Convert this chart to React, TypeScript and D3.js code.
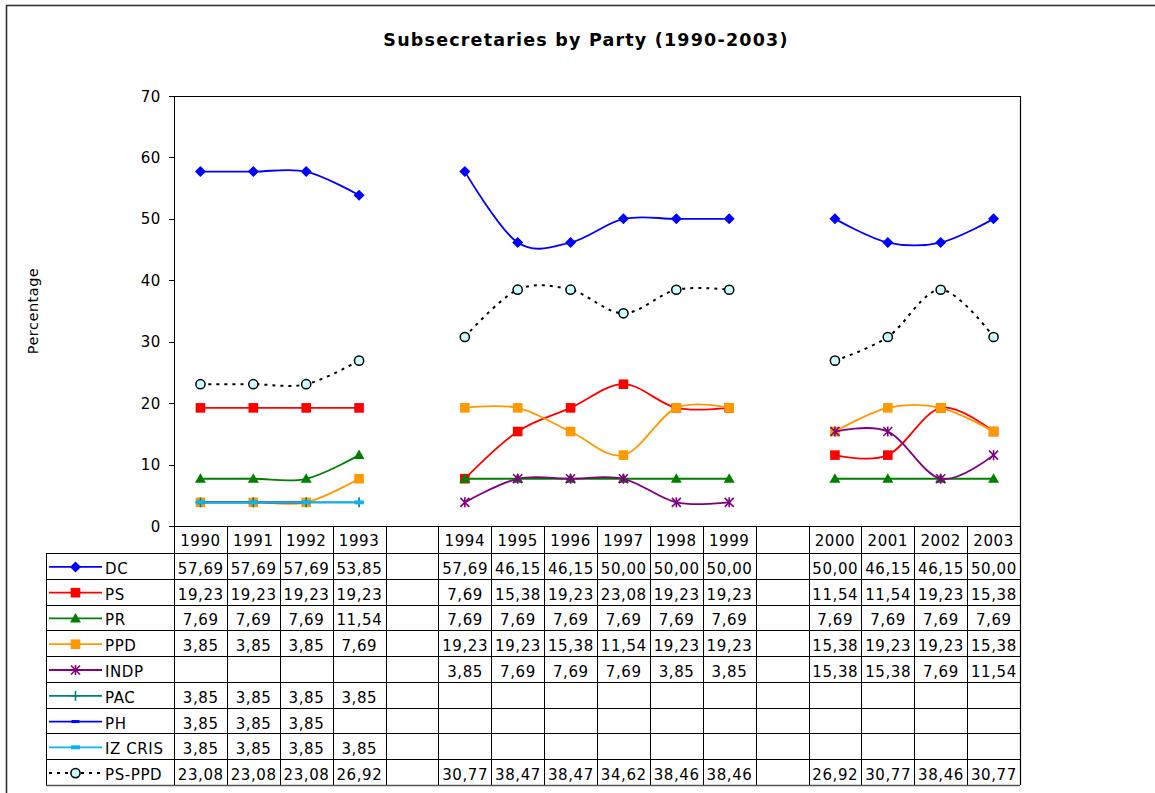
import React from "react";
import * as d3 from "d3";

const categories = ["1990","1991","1992","1993","","1994","1995","1996","1997","1998","1999","","2000","2001","2002","2003"];

const seriesNames = ["DC","PS","PR","PPD","INDP","PAC","PH","IZ CRIS","PS-PPD"];

const dcValues = [57.69,57.69,57.69,53.85,null,57.69,46.15,46.15,50.0,50.0,50.0,null,50.0,46.15,46.15,50.0];
const psValues = [19.23,19.23,19.23,19.23,null,7.69,15.38,19.23,23.08,19.23,19.23,null,11.54,11.54,19.23,15.38];
const prValues = [7.69,7.69,7.69,11.54,null,7.69,7.69,7.69,7.69,7.69,7.69,null,7.69,7.69,7.69,7.69];
const ppdValues = [3.85,3.85,3.85,7.69,null,19.23,19.23,15.38,11.54,19.23,19.23,null,15.38,19.23,19.23,15.38];
const indpValues = [null,null,null,null,null,3.85,7.69,7.69,7.69,3.85,3.85,null,15.38,15.38,7.69,11.54];
const pacValues = [3.85,3.85,3.85,3.85,null,null,null,null,null,null,null,null,null,null,null,null];
const phValues = [3.85,3.85,3.85,null,null,null,null,null,null,null,null,null,null,null,null,null];
const izValues = [3.85,3.85,3.85,3.85,null,null,null,null,null,null,null,null,null,null,null,null];
const psppdValues = [23.08,23.08,23.08,26.92,null,30.77,38.47,38.47,34.62,38.46,38.46,null,26.92,30.77,38.46,30.77];

const yTicks = [0,10,20,30,40,50,60,70];

type Marker = "diamond"|"square"|"triangle"|"asterisk"|"plus"|"dash"|"bar"|"circle";
interface Series { name: string; values: (number|null)[]; color: string; marker: Marker; dashed?: boolean; }

const series: Series[] = [
  { name: seriesNames[0], values: dcValues, color: "#0000FF", marker: "diamond" },
  { name: seriesNames[1], values: psValues, color: "#FF0000", marker: "square" },
  { name: seriesNames[2], values: prValues, color: "#008000", marker: "triangle" },
  { name: seriesNames[3], values: ppdValues, color: "#FF9900", marker: "square" },
  { name: seriesNames[4], values: indpValues, color: "#800080", marker: "asterisk" },
  { name: seriesNames[5], values: pacValues, color: "#008080", marker: "plus" },
  { name: seriesNames[6], values: phValues, color: "#0000FF", marker: "dash" },
  { name: seriesNames[7], values: izValues, color: "#0AB4F0", marker: "bar" },
  { name: seriesNames[8], values: psppdValues, color: "#000000", marker: "circle", dashed: true },
];

const FONT = "'DejaVu Sans', Verdana, sans-serif";
const FS = 15;
const LS = 0.6;

function MarkerShape({ type, x, y, color }: { type: Marker; x: number; y: number; color: string }) {
  switch (type) {
    case "diamond":
      return <path d={`M${x},${y-5.5}L${x+5.5},${y}L${x},${y+5.5}L${x-5.5},${y}Z`} fill={color} />;
    case "square":
      return <rect x={x-4.8} y={y-4.8} width={9.6} height={9.6} fill={color} />;
    case "triangle":
      return <path d={`M${x},${y-5.5}L${x+5.5},${y+4}L${x-5.5},${y+4}Z`} fill={color} />;
    case "asterisk":
      return (
        <g stroke={color} strokeWidth={1.6}>
          <line x1={x-4.5} y1={y-4.5} x2={x+4.5} y2={y+4.5} />
          <line x1={x-4.5} y1={y+4.5} x2={x+4.5} y2={y-4.5} />
          <line x1={x} y1={y-5} x2={x} y2={y+5} />
        </g>
      );
    case "plus":
      return (
        <g stroke={color} strokeWidth={1.6}>
          <line x1={x-5} y1={y} x2={x+5} y2={y} />
          <line x1={x} y1={y-5} x2={x} y2={y+5} />
        </g>
      );
    case "dash":
      return <rect x={x-4} y={y-1.5} width={8} height={3} fill={color} />;
    case "bar":
      return <rect x={x-4.5} y={y-2} width={9} height={4} fill={color} />;
    case "circle":
      return <circle cx={x} cy={y} r={4.6} fill="#CCFFFF" stroke="#000" strokeWidth={1.5} />;
  }
  return null;
}

export default function App() {
  const width = 1155, height = 793;
  const plotLeft = 174, plotRight = 1020, plotTop = 96, plotBottom = 526;
  const x = d3.scaleBand<number>().domain(d3.range(categories.length)).range([plotLeft, plotRight]);
  const bw = x.bandwidth();
  const cx = (i: number) => (x(i) as number) + bw / 2;
  const y = d3.scaleLinear().domain([0, 70]).range([plotBottom, plotTop]);

  const line = d3.line<number|null>()
    .defined(d => d != null)
    .x((_, i) => cx(i))
    .y(d => y(d as number))
    .curve(d3.curveCardinal.tension(0));

  const headerBottom = 553;
  const rowH = (785 - headerBottom) / series.length;
  const tableBottom = headerBottom + rowH * series.length;
  const legendLeft = 46;
  const fmt = (v: number) => v.toFixed(2).replace(".", ",");

  return (
    <svg width={width} height={height} style={{ position: "absolute", left: 0, top: 0, background: "#fff" }} fontFamily={FONT}>
      <rect x={0} y={0} width={width} height={height} fill="#fff" />
      <rect x={6.5} y={5.5} width={1200} height={900} fill="none" stroke="#333" strokeWidth={1.6} />
      <text x={586} y={46} textAnchor="middle" fontSize={17.5} fontWeight="bold" letterSpacing={1.2} fill="#000">Subsecretaries by Party (1990-2003)</text>

      {/* plot frame */}
      <line x1={plotLeft} y1={plotTop + 0.5} x2={plotRight} y2={plotTop + 0.5} stroke="#000" strokeWidth={1} />
      <line x1={plotRight + 0.5} y1={plotTop} x2={plotRight + 0.5} y2={tableBottom} stroke="#000" strokeWidth={1.2} />
      <line x1={plotLeft + 0.5} y1={plotTop} x2={plotLeft + 0.5} y2={tableBottom} stroke="#000" strokeWidth={1} />

      {/* y axis */}
      {yTicks.map(t => (
        <g key={t}>
          <line x1={plotLeft - 5} x2={plotLeft} y1={Math.round(y(t)) + 0.5} y2={Math.round(y(t)) + 0.5} stroke="#000" />
          <text x={plotLeft - 13} y={y(t) + 5.5} textAnchor="end" fontSize={FS} letterSpacing={LS} fill="#000">{t}</text>
        </g>
      ))}
      <text transform={`translate(38,311) rotate(-90)`} textAnchor="middle" fontSize={14.5} letterSpacing={0.5} fill="#000">Percentage</text>

      {/* series */}
      {series.map(s => (
        <g key={s.name}>
          <path d={line(s.values) || ""} fill="none" stroke={s.color} strokeWidth={s.dashed ? 2 : 1.8}
            strokeDasharray={s.dashed ? "3 5" : undefined} />
          {s.values.map((v, i) => v == null ? null : (
            <MarkerShape key={i} type={s.marker} x={cx(i)} y={y(v)} color={s.color} />
          ))}
        </g>
      ))}

      {/* table */}
      <line x1={plotLeft} x2={plotRight} y1={plotBottom + 0.5} y2={plotBottom + 0.5} stroke="#000" />
      {categories.map((c, i) => (
        <g key={"h" + i}>
          <line x1={Math.round(x(i) as number) + 0.5} x2={Math.round(x(i) as number) + 0.5} y1={plotBottom} y2={tableBottom} stroke="#000" />
          <text x={cx(i)} y={545.5} textAnchor="middle" fontSize={FS} letterSpacing={LS} fill="#000">{c}</text>
        </g>
      ))}
      <line x1={legendLeft} x2={plotRight} y1={headerBottom + 0.5} y2={headerBottom + 0.5} stroke="#000" />
      <line x1={legendLeft + 0.5} x2={legendLeft + 0.5} y1={headerBottom} y2={tableBottom} stroke="#000" />
      {series.map((s, r) => {
        const top = headerBottom + rowH * r;
        const mid = top + rowH / 2 + 1;
        const bottom = Math.round(top + rowH) + 0.5;
        return (
          <g key={"r" + s.name}>
            <line x1={legendLeft} x2={plotRight} y1={bottom} y2={bottom} stroke={r === series.length - 1 ? "#555" : "#000"} strokeWidth={r === series.length - 1 ? 1.6 : 1} />
            <line x1={49} x2={102} y1={mid} y2={mid} stroke={s.color} strokeWidth={s.dashed ? 2 : 1.8} strokeDasharray={s.dashed ? "3 5" : undefined} />
            <MarkerShape type={s.marker} x={75.5} y={mid} color={s.color} />
            <text x={105} y={mid + 7} fontSize={FS} letterSpacing={LS} fill="#000">{s.name}</text>
            {s.values.map((v, i) => v == null ? null : (
              <text key={i} x={cx(i) + LS / 2} y={mid + 7} textAnchor="middle" fontSize={FS} letterSpacing={LS} fill="#000">{fmt(v)}</text>
            ))}
          </g>
        );
      })}
    </svg>
  );
}
